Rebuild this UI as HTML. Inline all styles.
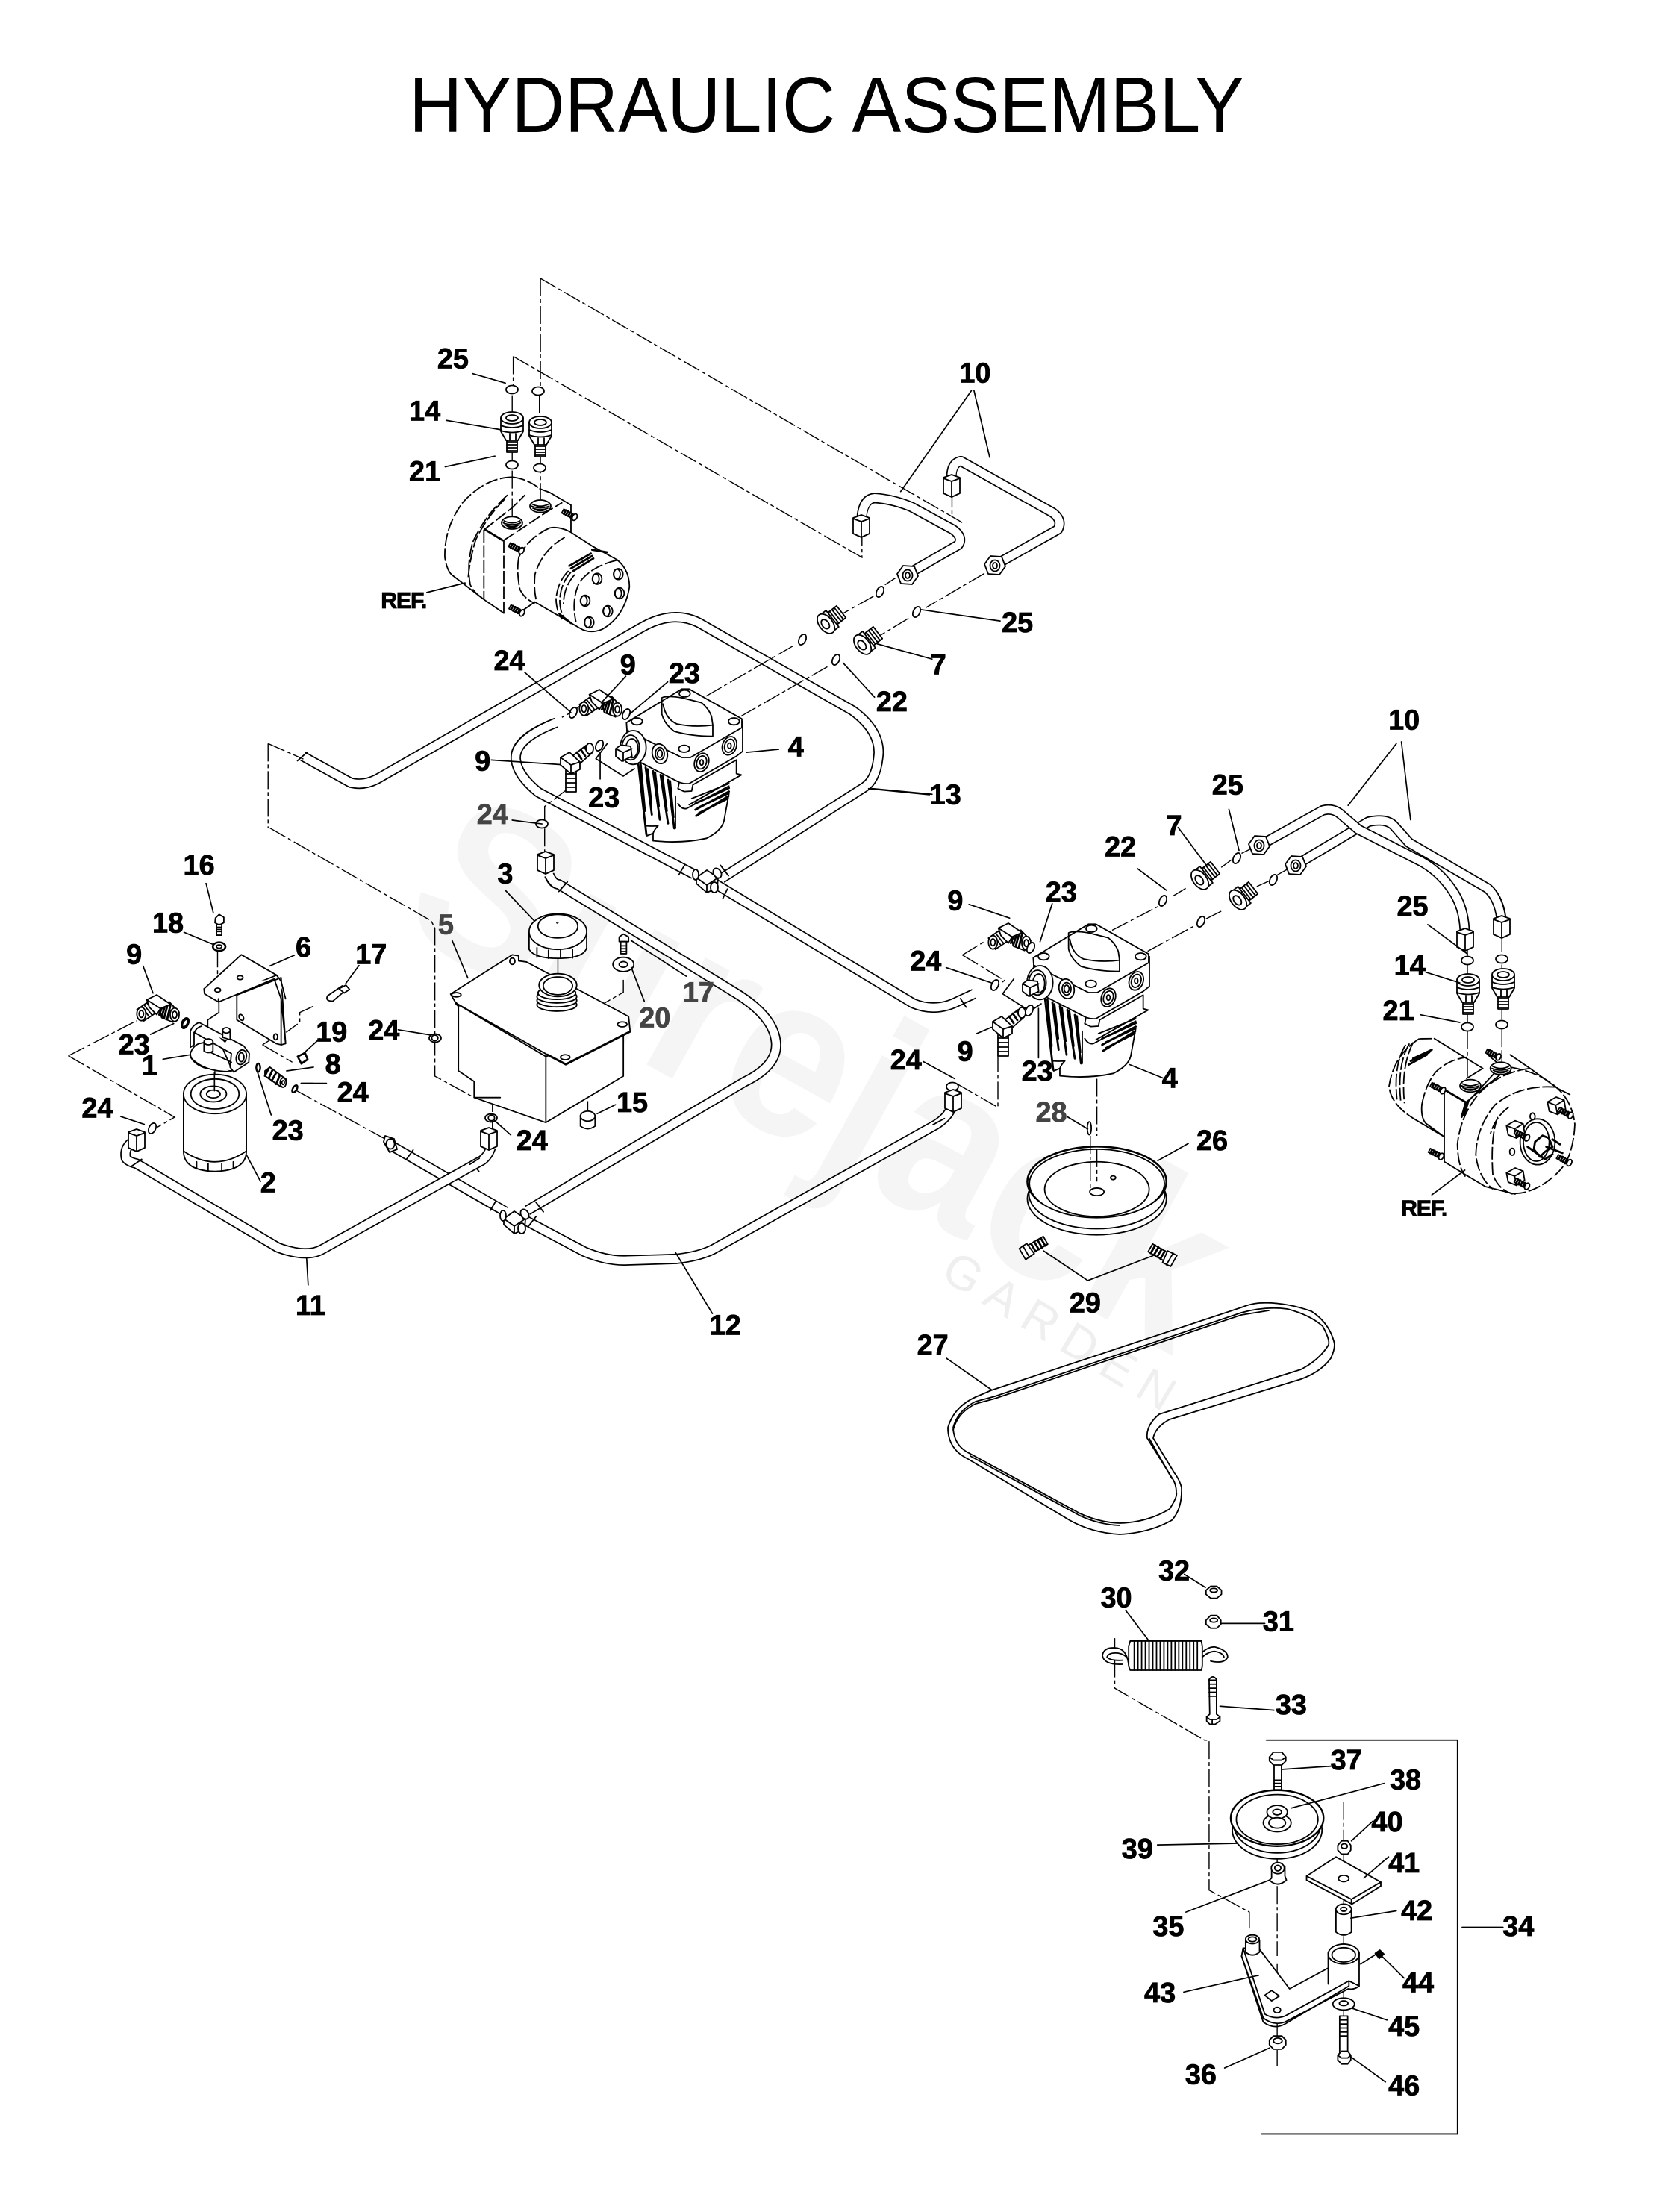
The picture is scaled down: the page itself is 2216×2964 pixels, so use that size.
<!DOCTYPE html>
<html><head><meta charset="utf-8"><title>Hydraulic Assembly</title>
<style>
html,body{margin:0;padding:0;background:#fff}
svg{display:block}
svg *{vector-effect:non-scaling-stroke}
.l{fill:none;stroke:#000;stroke-width:1.8;stroke-linejoin:round;stroke-linecap:round}
.w path,.w ellipse,.w polygon,.w rect,.w circle{fill:#fff}
.ld{stroke-width:1.7}
.nf path,.nf ellipse{fill:none}
.h{stroke-width:2.8}
.da{fill:none;stroke:#000;stroke-width:1.4;stroke-dasharray:24 4 5 4}
.dd{fill:none;stroke:#000;stroke-width:1.8;stroke-dasharray:17 3.5;stroke-linecap:butt}
.t1{fill:none;stroke:#000;stroke-width:14;stroke-linejoin:round;stroke-linecap:butt}
.t2{fill:none;stroke:#fff;stroke-width:10.6;stroke-linejoin:round;stroke-linecap:square}
.n text{font:bold 20px "Liberation Sans",sans-serif;text-anchor:middle;fill:#000;stroke:#000;stroke-width:.8}
.n .g{fill:#444;stroke:#444}
.n .r{font-size:16px;letter-spacing:-.6px}
</style></head><body>
<svg xmlns="http://www.w3.org/2000/svg" width="2216" height="2964" viewBox="0 0 2216 2964">
<rect width="2216" height="2964" fill="#fff"/>
<text transform="translate(530,1240) rotate(29)" font-family="Liberation Sans,sans-serif" font-weight="bold" font-size="310" fill="#f5f5f5" textLength="1190" lengthAdjust="spacingAndGlyphs">Surejack</text>
<text transform="translate(1258,1712) rotate(31)" font-family="Liberation Sans,sans-serif" font-size="64" fill="#efefef" textLength="350" lengthAdjust="spacing">GARDEN</text>
<text x="548" y="177" font-family="Liberation Sans,sans-serif" font-size="106" fill="#000" textLength="1119" lengthAdjust="spacingAndGlyphs">HYDRAULIC ASSEMBLY</text>

<defs>
<g id="ring" class="l w"><ellipse rx="4.5" ry="7.5" transform="rotate(25)"/></g>
<g id="rh" class="l"><ellipse rx="8" ry="5.5" fill="#fff"/></g>
<g id="nutE" class="l w"><polygon points="-14,-2 -6,-13 9,-12 14,1 6,12 -9,11"/><ellipse rx="6.5" ry="7.5"/><ellipse rx="3" ry="4"/></g>
<g id="nutV" class="l w"><polygon points="-11,-11 0,-15 11,-11 11,10 0,15 -11,10"/><path d="M-11,-10 L0,-6 L11,-10 M0,-6 V15"/></g>
<g id="fit7" class="l w" transform="rotate(-38)">
 <rect x="12" y="-10" width="16" height="20"/><path d="M16,-10V10M20,-10V10M24,-10V10"/>
 <rect x="2" y="-14" width="11" height="28"/><path d="M2,-5H13M2,5H13"/>
 <ellipse cx="2" cy="0" rx="9" ry="15"/><ellipse cx="1" cy="0" rx="4.5" ry="7"/>
</g>
<g id="fit14" class="l w">
 <rect x="-7" y="8" width="14" height="18"/><path d="M-7,12H7M-7,16H7M-7,20H7M-7,24H7" />
 <path d="M-15,-20 V-2 L-8,10 H8 L15,-2 V-20Z"/><path d="M-15,-10 Q0,-4 15,-10 M-15,-3 Q0,2 15,-3 M-3,10 V1 M5,10 V1"/>
 <ellipse cx="0" cy="-20" rx="15" ry="8"/><ellipse cx="0" cy="-20" rx="8" ry="4"/>
</g>
<g id="elb1"><g transform="scale(.3333) translate(-150,-265)" class="l w">
 <path d="M70,280 L110,252 L150,290 L98,325Z"/>
 <path d="M100,262 L130,300 M112,255 L142,292 M90,268 L118,306"/>
 <ellipse cx="88" cy="297" rx="18" ry="27"/><ellipse cx="88" cy="297" rx="9" ry="14"/>
 <path d="M160,270 L200,248 L240,290 L215,330 L170,312Z"/>
 <path class="h" d="M175,262 L160,300 M185,258 L170,308 M195,255 L180,312 M205,262 L192,318"/>
 <ellipse cx="222" cy="300" rx="18" ry="27"/><ellipse cx="222" cy="300" rx="9" ry="14"/>
 <path d="M110,240 L150,220 L205,258 L165,275 L150,300 L120,270Z"/><path d="M110,240 L165,275"/>
</g></g>
<g id="elb2" class="l w">
 <rect x="-7" y="8" width="14" height="30"/><path d="M-7,14H7M-7,20H7M-7,26H7M-7,32H7"/>
 <path d="M2,-10 L20,-24 L28,-14 L10,2Z"/><path class="h" d="M8,-15 L14,-6 M13,-19 L19,-10 M18,-22 L24,-13"/><ellipse cx="25" cy="-20" rx="5" ry="7"/>
 <polygon points="-14,-8 -2,-15 12,-2 12,8 0,14 -14,2"/><path d="M-14,-8 L0,2 L12,-2 M0,2 V14"/>
</g>
<g id="hex" class="l w"><path d="M-15,-4 L-8,-10 H8 L15,-4 V3 L8,9 H-8 L-15,3Z"/><path d="M-15,-4 L-8,2 H8 L15,-4 M-8,2 V9 M8,2 V9"/><ellipse cx="0" cy="-4" rx="6" ry="3.5"/></g>
<g id="scr" class="l w"><rect x="0" y="-6" width="24" height="12"/><path class="h" d="M5,-6V6M10,-6V6M15,-6V6M20,-6V6"/><path d="M-12,-8 L0,-9 L2,8 L-12,9Z"/><path d="M-6,-9 V9"/></g>
<g id="stud"><g class="l w"><path d="M-26,-13 L22,12 L14,27 L-34,2Z"/><ellipse cx="18" cy="19" rx="9" ry="14" transform="rotate(28 18 19)"/><path class="h" d="M-18,-9 L-26,6 M-9,-5 L-17,11 M0,0 L-8,15 M9,5 L1,20"/></g></g>
<g id="thr" class="l"><ellipse rx="42" ry="25" fill="#fff"/><path d="M-32,-8 Q0,8 32,-8 M-35,0 Q0,14 35,0 M-30,8 Q0,20 30,8 M-20,14 Q0,22 20,14"/></g>
<g id="hh" class="l w"><path d="M-35,-15 L0,-35 L32,-22 L38,15 L5,35 L-28,22Z"/><path d="M-35,-15 L-2,-2 L32,-22 M-2,-2 L5,35"/></g>

<g id="pump" transform="translate(780,900) scale(.3333)">
 <path fill="#fff" d="M178,205 L400,70 H430 L645,200 V320 L590,490 L570,600 L500,670 L285,680 L260,660 L222,360 L180,340Z"/>
 <g class="l w nf">
 <path d="M285,650 V680 Q400,692 500,670 Q560,640 570,600 L590,490"/>
 <path d="M260,660 L255,620 Q280,622 305,620 Q290,635 285,650 L260,660"/>
 <path class="h" d="M225,365 L258,655 M235,372 L252,560 M255,385 L280,575 M263,392 L278,530 M285,400 L312,595 M293,405 L308,540 M315,415 L345,610 M323,420 L340,560 M345,435 L370,630 M353,440 L367,585"/>
 <path d="M375,500 V630 M385,530 Q400,555 420,550 L590,460"/>
 <path d="M215,355 L390,445 Q410,452 430,450 L620,340 L645,320 V200"/>
 <path d="M390,445 L385,470 L410,482 L440,480 L445,455 L620,355 V410 L640,415 L430,535"/>
 <path d="M440,510 L590,450"/>
 <path class="h" d="M455,530 L590,468 M455,555 L590,482 M458,580 L588,500 M470,545 L585,490 M470,568 L585,510"/>
 <path d="M178,205 L400,70 H430 L642,190 V225 L435,345 H400 L180,235Z"/>
 <path d="M180,235 V340 M205,240 L215,355"/>
 <path d="M320,105 Q340,95 400,105 L480,125 Q510,150 520,180 L525,215 V260 Q440,260 370,240 Q330,210 320,170Z"/>
 <path d="M325,130 Q335,190 380,210 Q450,225 525,215"/>
 </g>
 <g class="l w">
 <ellipse cx="220" cy="200" rx="22" ry="14"/><ellipse cx="412" cy="88" rx="22" ry="14"/><ellipse cx="610" cy="200" rx="22" ry="14"/><ellipse cx="410" cy="310" rx="22" ry="14"/>
 <ellipse cx="312" cy="330" rx="30" ry="40" transform="rotate(-15 312 330)"/><ellipse cx="312" cy="330" rx="18" ry="25"/><ellipse cx="312" cy="330" rx="10" ry="15"/>
 <ellipse cx="480" cy="365" rx="28" ry="38" transform="rotate(20 480 365)"/><ellipse cx="480" cy="365" rx="19" ry="27" transform="rotate(20 480 365)"/><ellipse cx="480" cy="365" rx="7" ry="11"/>
 <ellipse cx="592" cy="298" rx="28" ry="38" transform="rotate(20 592 298)"/><ellipse cx="592" cy="298" rx="19" ry="27" transform="rotate(20 592 298)"/><ellipse cx="592" cy="298" rx="7" ry="11"/>
 <ellipse cx="205" cy="305" rx="52" ry="68"/><ellipse cx="195" cy="305" rx="35" ry="50"/><ellipse cx="200" cy="308" rx="24" ry="38"/>
 <path d="M135,310 L155,295 L195,300 L200,340 L160,360 L135,340Z"/><path d="M135,310 L165,325 L200,310 M165,325 V360"/>
 </g>
 <path class="l ld" d="M100,290 L55,350 L165,420 L210,390"/>
</g>
</defs>

<!-- tubes back -->
<g transform="translate(400,350) scale(.7015,.5102)">
 <path class="t1" d="M8,1300 L100,1370 Q125,1378 150,1360 L655,962 Q715,915 765,950 L1058,1180 Q1108,1230 1108,1290 Q1105,1360 1080,1382 L808,1621"/>
 <path class="t2" d="M8,1300 L100,1370 Q125,1378 150,1360 L655,962 Q715,915 765,950 L1058,1180 Q1108,1230 1108,1290 Q1105,1360 1080,1382 L808,1621"/>
 <path class="l" d="M-2,1312 L16,1290"/>
 <path class="t1" d="M492,1212 Q410,1255 415,1310 Q418,1350 458,1395 L755,1610"/>
 <path class="t2" d="M492,1212 Q410,1255 415,1310 Q418,1350 458,1395 L755,1610"/>
 <path class="da" d="M462,45 L1272,690 M462,45 V340 M460,352 V420 M462,510 V640"/>
 <path class="da" d="M410,250 L1076,778 V720 M410,250 V325 M408,352 V410 M408,500 V525 M408,550 V680"/>
 <path class="da" d="M1248,600 V665 M1140,832 L1120,850 M1098,880 L1040,925 M945,1010 L775,1145 M1310,820 L1198,910 M1165,938 L1108,985 M1010,1065 L845,1195"/>
 <path class="da" d="M515,1385 L470,1432 V1470 M470,1490 V1555 M540,1165 L525,1182 L503,1198"/>
</g>
<g transform="translate(500,1000) scale(.7653,.6378)">
 <path class="t1" d="M596,287 L945,540 Q985,560 1025,535 L1052,520"/><path class="t2" d="M596,287 L945,540 Q985,560 1025,535 L1052,520"/>
 <path class="t1" d="M308,270 Q315,290 325,290 L630,515 Q700,565 705,620 Q710,670 650,705 L270,975"/><path class="t2" d="M308,270 Q315,290 325,290 L630,515 Q700,565 705,620 Q710,670 650,705 L270,975"/>
 <path class="t1" d="M265,995 L370,1062 Q410,1082 445,1080 L530,1077 Q570,1072 595,1057 L985,795 Q1005,780 1012,760"/><path class="t2" d="M265,995 L370,1062 Q410,1082 445,1080 L530,1077 Q570,1072 595,1057 L985,795 Q1005,780 1012,760"/>
 <path class="t1" d="M30,838 L232,978"/><path class="t2" d="M36,842 L228,975"/>
 <path class="l" d="M620,300 L612,320 M545,250 L535,270 M1028,530 L1038,548 M608,250 L622,272 M340,285 L325,305 M1000,782 L980,795 M285,958 L298,978 M285,988 L272,1008 M70,848 L58,868 M215,955 L205,975 M175,878 L185,893"/>
</g>
<g transform="translate(60,1100) scale(.7015,.4783)">
 <path class="t1" d="M175,893 Q150,910 155,945 Q160,955 175,960 L445,1195 Q500,1225 530,1200 L830,955 Q845,945 852,915"/>
 <path class="t2" d="M175,893 Q150,910 155,945 Q160,955 175,960 L445,1195 Q500,1225 530,1200 L830,955 Q845,945 852,915"/>
 <path class="l" d="M165,968 L185,948 M830,945 L812,962"/>
 <path class="da" d="M45,658 L175,560 M45,658 L248,830 L215,858 M325,700 V770 M330,360 V450 M480,755 L655,895 M1105,445 V480 L992,575 V750 M980,385 V455 M1037,785 V815 M870,775 L855,795 V825 M855,840 V870"/>
 <path class="da" d="M430,20 L738,280 L745,300 V715 L820,775"/>
</g>
<g transform="scale(1.8906)"><path class="da" d="M190,527 L215,538 M190,527 V587"/></g>

<!-- tube 10 -->
<g transform="translate(400,350) scale(.7015,.5102)">
 <path class="t1" d="M1075,690 Q1075,625 1100,622 Q1135,625 1170,645 L1250,705 Q1270,725 1260,745 L1163,822"/><path class="t2" d="M1075,690 Q1075,625 1100,622 Q1135,625 1170,645 L1250,705 Q1270,725 1260,745 L1163,822"/>
 <path class="t1" d="M1247,575 Q1245,530 1265,525 L1440,660 Q1460,680 1450,705 L1330,798"/><path class="t2" d="M1247,575 Q1245,530 1265,525 L1440,660 Q1460,680 1450,705 L1330,798"/>
</g>
<g transform="translate(1150,920) scale(.68,.5102)">
 <path class="t1" d="M1268,625 Q1265,560 1240,530 L1085,410 L1055,365 Q1040,345 1005,355 L860,470"/><path class="t2" d="M1268,625 Q1265,560 1240,530 L1085,410 L1055,365 Q1040,345 1005,355 L860,470"/>
 <path class="t1" d="M790,418 L915,325 Q935,318 950,335 L985,375 L1110,460 Q1150,490 1175,545 Q1195,590 1195,655"/><path class="t2" d="M790,418 L915,325 Q935,318 950,335 L985,375 L1110,460 Q1150,490 1175,545 Q1195,590 1195,655"/>
 <path class="da" d="M500,640 L590,578 M620,550 L645,530 M715,475 L735,455 M755,438 L775,425 M570,695 L660,630 M685,610 L715,590 M785,525 L810,510 M825,495 L845,480"/>
 <path class="da" d="M205,705 L248,670 M205,705 L288,772 L268,790 M275,965 V1105 L190,1040 M470,1030 V1180 M470,1215 V1300 M457,1180 V1320 M1268,650 V705 M1200,690 V710 M1200,730 V770 M1268,730 V750 M1268,840 V875 M1200,850 V880 M1200,905 V1040 M1268,900 V1000"/>
</g>

<!-- pumps -->
<use href="#pump"/>
<use href="#pump" x="545" y="315"/>

<!-- fittings -->
<use href="#ring" x="1075" y="857"/><use href="#ring" x="1120" y="884"/><use href="#ring" x="1179" y="793"/><use href="#ring" x="1228" y="820"/>
<use href="#ring" x="1558" y="1207"/><use href="#ring" x="1609" y="1235"/><use href="#ring" x="1657" y="1150"/><use href="#ring" x="1706" y="1179"/>
<use href="#fit7" transform="translate(1105,837)"/><use href="#fit7" transform="translate(1154,865)"/><use href="#fit7" transform="translate(1606,1180)"/><use href="#fit7" transform="translate(1657,1207)"/>
<use href="#nutE" x="1216" y="771"/><use href="#nutE" x="1333" y="758"/><use href="#nutE" x="1687" y="1133"/><use href="#nutE" x="1736" y="1160"/>
<use href="#nutV" x="1154" y="705"/><use href="#nutV" x="1275" y="651"/><use href="#nutV" x="1963" y="1259"/><use href="#nutV" x="2012" y="1242"/>
<use href="#fit14" x="686" y="580"/><use href="#fit14" x="724" y="586"/><use href="#fit14" x="1967" y="1333"/><use href="#fit14" x="2014" y="1326"/>
<use href="#rh" x="686" y="522"/><use href="#rh" x="721" y="524"/><use href="#rh" x="686" y="623"/><use href="#rh" x="723" y="627"/><use href="#rh" x="1966" y="1287"/><use href="#rh" x="2012" y="1285"/><use href="#rh" x="1966" y="1376"/><use href="#rh" x="2012" y="1373"/>
<use href="#elb1" x="803" y="939"/><use href="#elb2" x="765" y="1023"/><use href="#elb1" x="1351" y="1252"/><use href="#elb2" x="1344" y="1377"/><use href="#elb1" x="210" y="1348"/>
<use href="#ring" x="839" y="957"/><use href="#ring" x="803" y="999"/><use href="#ring" x="1381" y="1270"/><use href="#ring" x="1379" y="1354"/><use href="#ring" x="248" y="1371"/>
<use href="#ring" x="768" y="955"/><use href="#ring" x="1333" y="1320"/><use href="#ring" x="204" y="1512"/>
<use href="#rh" x="726" y="1104"/><use href="#rh" x="1276" y="1456"/><use href="#rh" x="583" y="1391"/><use href="#rh" x="658" y="1498"/>
<use href="#nutV" x="731" y="1156"/><use href="#nutV" x="655" y="1526"/><use href="#nutV" x="1277" y="1475"/><use href="#nutV" x="183" y="1528"/>
<g class="l w"><polygon points="516,1522 528,1526 532,1540 522,1544 514,1530"/>
<g transform="translate(947,1180)"><polygon points="-14,-4 0,-14 15,-4 14,10 0,16 -14,4"/><path d="M-14,-4 L0,6 L15,-4 M0,6 V16"/><ellipse cx="14" cy="-10" rx="5" ry="7" transform="rotate(-30 14 -10)"/><ellipse cx="-15" cy="-8" rx="4" ry="7"/><ellipse cx="10" cy="9" rx="5" ry="7"/></g>
<g transform="translate(689,1637)"><polygon points="-14,-4 0,-14 15,-4 14,10 0,16 -14,4"/><path d="M-14,-4 L0,6 L15,-4 M0,6 V16"/><ellipse cx="14" cy="-10" rx="5" ry="7" transform="rotate(-30 14 -10)"/><ellipse cx="-15" cy="-8" rx="4" ry="7"/><ellipse cx="10" cy="9" rx="5" ry="7"/></g>
</g>

<!-- motor top-left -->
<g transform="translate(580,630) scale(.3333)">
 <path class="dd" d="M320,28 Q210,30 120,130 Q45,230 48,350 Q55,400 75,420 M300,100 Q210,180 160,290 Q135,380 150,460 Q165,495 205,518 M290,115 Q215,190 172,280 Q150,350 142,430 M205,240 V520 M285,282 V575 M205,240 L320,150 L370,100 M285,282 L470,160 L520,130 M320,28 Q380,35 430,75"/>
 <path class="dd" d="M345,350 Q335,410 350,480 Q370,520 410,535 M345,350 Q385,270 470,232 M530,270 Q440,320 410,420 Q405,480 415,520 M740,362 Q640,385 590,450 Q555,520 575,610"/>
 <path class="dd" d="M545,405 Q500,450 495,520 Q497,570 520,600 M555,410 Q510,460 510,530 Q512,570 530,600 M570,420 Q525,470 525,540"/>
 <path class="l" d="M75,420 L205,520 L285,575 M430,75 L470,90 L555,140 V250 M470,232 Q510,225 555,250 L640,305 L740,360 Q790,400 790,470 Q770,590 680,640 Q630,660 590,635 L410,530 L345,575"/>
 <path class="l h" d="M208,238 L280,282 M548,385 L635,335 M555,395 L640,345 M565,405 L645,355 M510,580 L555,615 M640,320 L700,330"/>
 <use href="#thr" x="318" y="212"/><use href="#thr" x="432" y="145"/>
 <use href="#stud" x="552" y="170"/><use href="#stud" x="338" y="305"/><use href="#stud" x="340" y="555"/>
 <g class="l"><ellipse cx="660" cy="437" rx="19" ry="22"/><ellipse cx="745" cy="418" rx="19" ry="22"/><ellipse cx="750" cy="495" rx="19" ry="22"/><ellipse cx="612" cy="525" rx="19" ry="22"/><ellipse cx="703" cy="567" rx="19" ry="22"/><ellipse cx="628" cy="612" rx="19" ry="22"/>
 <ellipse cx="655" cy="437" rx="13" ry="20"/><ellipse cx="740" cy="418" rx="13" ry="20"/><ellipse cx="745" cy="495" rx="13" ry="20"/><ellipse cx="607" cy="525" rx="13" ry="20"/><ellipse cx="698" cy="567" rx="13" ry="20"/><ellipse cx="623" cy="612" rx="13" ry="20"/></g>
</g>
<g transform="translate(400,350) scale(.7015,.5102)" class="l ld">
 <path d="M332,295 L395,320 M282,418 L388,443 M280,540 L375,512 M245,870 L318,845 M1285,340 L1150,605 M1290,340 L1320,515 M1188,915 L1340,945 M1105,1005 L1210,1045 M1040,1055 L1100,1145 M855,1290 L917,1282 M1095,1385 L1210,1400 M432,1080 L520,1185 M625,1090 L578,1160 M705,1105 L632,1190 M368,1310 L500,1322 M576,1290 V1360 M408,1468 L465,1478"/>
</g>

<!-- left assembly -->
<g transform="translate(60,1100) scale(.7015,.4783)">
 <g class="l w">
  <path d="M265,765 V925 Q265,980 325,982 Q385,980 385,925 V765Z"/>
  <path d="M265,925 Q325,985 385,925 M290,955 V975 M312,960 V980 M338,960 V980 M360,955 V975"/>
  <ellipse cx="325" cy="765" rx="60" ry="55"/><ellipse cx="325" cy="765" rx="46" ry="42"/><ellipse cx="322" cy="765" rx="25" ry="22"/><ellipse cx="322" cy="765" rx="13" ry="11"/>
  <path d="M326,272 L333,262 L342,270 L342,285 L333,292 L325,285Z"/><rect x="328" y="290" width="10" height="30"/><path d="M328,298H338M328,304H338M328,310H338"/>
  <ellipse cx="333" cy="352" rx="12" ry="12" style="stroke-width:2.6"/><ellipse cx="333" cy="352" rx="5" ry="5"/>
  <path d="M540,490 L568,462 L578,470 L550,505 Q535,505 540,490Z"/><path d="M562,470 L575,460 L582,472 L572,482Z"/>
  <path d="M483,660 L497,650 L502,668 L490,680Z" style="stroke-width:2.6"/>
  <ellipse cx="745" cy="608" rx="6" ry="8"/>
  <ellipse cx="853" cy="832" rx="6" ry="8"/>
  <path d="M790,515 V700 L820,730 V775 L957,845 L1105,715 V590 L957,660Z"/>
  <path d="M957,660 V845 M820,775 L870,775"/>
  <path d="M775,485 L893,375 L905,378 L905,392 L920,395 L1115,548 L1118,590 L995,682 L960,655 L785,510 Z"/>
  <path d="M785,510 L790,518 M960,655 L995,682 L1118,590" style="stroke-width:3"/>
  <ellipse cx="893" cy="393" rx="5" ry="9"/><ellipse cx="786" cy="487" rx="9" ry="6"/><ellipse cx="1103" cy="570" rx="9" ry="7"/><ellipse cx="994" cy="662" rx="9" ry="7"/>
  <ellipse cx="978" cy="515" rx="38" ry="18"/><ellipse cx="978" cy="503" rx="38" ry="18"/><ellipse cx="978" cy="492" rx="38" ry="18"/><ellipse cx="978" cy="482" rx="36" ry="18"/>
  <ellipse cx="980" cy="460" rx="36" ry="32"/><ellipse cx="980" cy="462" rx="28" ry="25"/>
  <path d="M925,310 V360 Q935,385 980,385 Q1030,385 1035,355 V310Z"/><path d="M940,355V382M962,362V385M985,362V385M1008,360V384"/>
  <ellipse cx="980" cy="310" rx="55" ry="50"/><ellipse cx="980" cy="295" rx="38" ry="33"/>
  <circle cx="979" cy="285" r="1"/>
  <path d="M1097,325 L1105,317 L1115,325 V338 H1097Z"/><rect x="1100" y="338" width="11" height="34"/><path d="M1100,350H1111M1100,358H1111M1100,366H1111"/>
  <ellipse cx="1105" cy="402" rx="20" ry="20"/><ellipse cx="1105" cy="402" rx="8" ry="8"/>
  <path d="M1023,825 V855 Q1037,870 1051,855 V825Z"/><ellipse cx="1037" cy="827" rx="14" ry="14"/>
  <ellipse cx="660" cy="905" rx="8" ry="14"/>
 </g>
 <g class="l ld">
  <path d="M308,175 L322,258 M266,312 L320,345 M600,405 L575,455 M525,610 L495,650 M675,585 L738,600 M490,735 H538 M145,828 L190,850 M1055,820 L1090,795 M890,880 L858,838 M412,1010 L385,935 M503,1300 L500,1225 M1275,1380 L1205,1210 M1225,435 L1120,335 M1145,505 L1120,410 M880,195 L935,280 M778,335 L808,440"/>
 </g>
</g>

<!-- filter head + bracket -->
<g transform="translate(160,1260) scale(.3333)">
 <path class="da" d="M780,265 L725,290 V330 L670,370 M575,420 L630,385 M575,420 L695,490"/>
 <g class="l w">
  <path d="M472,220 V320 L630,415 L650,420 L668,415 L650,150 L472,220Z"/>
  <ellipse cx="490" cy="310" rx="8" ry="13" transform="rotate(-30 490 310)"/><ellipse cx="628" cy="388" rx="8" ry="12"/>
  <path d="M340,195 L490,58 L632,140 L398,235Z"/>
  <path d="M340,195 L342,215 L398,248 L622,155 L650,235 L668,415 L650,420 V235 L622,155 M632,140 L650,165 L668,235 M398,235 V248"/>
  <ellipse cx="485" cy="150" rx="12" ry="8"/><ellipse cx="395" cy="200" rx="12" ry="8"/>
 </g>
 <path class="l ld" d="M400,250 V290 L355,320 V400 M382,530 V605 M95,103 L135,212 M605,103 L703,60 M125,378 L218,335 M175,478 L285,460 M672,525 L780,510 M555,530 L610,702 M730,575 H780"/>
 <g class="l w">
  <path d="M285,455 Q285,490 340,512 Q400,525 450,525 L450,515 L400,400 L320,415 Q295,425 285,455Z"/>
  <path d="M285,470 Q340,530 450,528"/>
  <path d="M285,430 V365 Q295,340 320,330 L500,425 L522,455 L520,490 L460,530 L445,510 L450,455 L300,370 V420 Z"/>
  <path d="M300,372 Q310,350 330,345 M345,440 L450,490"/>
  <ellipse cx="490" cy="470" rx="20" ry="30" transform="rotate(15 490 470)"/><ellipse cx="490" cy="470" rx="11" ry="18"/>
  <path d="M340,408 V445 Q358,458 376,445 V408Z"/><ellipse cx="358" cy="408" rx="18" ry="12"/>
  <path d="M415,362 V390 L445,400 V362Z"/><ellipse cx="430" cy="362" rx="15" ry="11"/>
  <ellipse cx="264" cy="333" rx="9" ry="17" transform="rotate(30 264 333)" style="fill:none;stroke-width:2.4"/>
  <ellipse cx="558" cy="512" rx="8" ry="17" style="stroke-width:2.4"/>
  <path d="M585,525 L605,510 L672,560 L650,590 L585,545Z"/>
  <path class="h" d="M600,515 L585,545 M615,522 L600,555 M630,532 L612,565 M645,542 L630,578"/><ellipse cx="658" cy="572" rx="12" ry="19"/><ellipse cx="658" cy="572" rx="5" ry="8"/>
  <ellipse cx="705" cy="597" rx="8" ry="16" transform="rotate(30 705 597)" style="fill:none;stroke-width:2.4"/>
 </g>
 <path d="M400,390 L432,402 L425,412Z" fill="#000"/>
</g>

<!-- right motor -->
<g transform="translate(1890,1380) scale(.3333)">
 <path class="dd" d="M34,36 Q-68,100 -87,227 Q-80,300 14,358 M34,36 L95,35 M45,300 Q60,220 100,170 Q150,120 225,110 M-20,60 Q-70,140 -55,280 M-5,55 Q-55,140 -40,285 M10,50 Q-40,150 -25,295"/>
 <path class="l" d="M14,358 L135,430 M95,35 L290,155 L225,195 M400,100 L480,155 M310,100 L345,130 M45,300 Q40,350 60,375 L135,430 M135,250 V530 L225,585 L300,630 L420,660 M225,295 L340,170 M235,280 L360,180 M480,155 L590,235 L640,260"/>
 <path class="l h" d="M135,240 L220,290 M222,290 L205,350 M232,285 L215,345 M225,295 L210,340 M10,115 L85,80 M0,125 L75,90 M-8,140 L65,100"/>
 <path class="dd" d="M480,155 Q360,170 280,250 Q200,340 188,460 Q190,550 220,590 M400,150 Q520,170 590,235 Q650,290 660,380 Q655,480 620,540 Q560,620 470,650 Q420,665 380,650 M580,230 Q440,220 340,300 Q265,390 262,500 Q270,590 330,640 M395,310 Q340,350 320,420 M350,350 Q320,430 330,580 Q350,640 410,660"/>
 <use href="#thr" x="240" y="225"/><use href="#thr" x="362" y="155"/>
 <use href="#stud" x="335" y="90"/><use href="#stud" x="112" y="225"/><use href="#stud" x="105" y="490"/>
 <g class="l"><ellipse cx="510" cy="450" rx="70" ry="92"/><ellipse cx="505" cy="450" rx="52" ry="78"/><ellipse cx="490" cy="348" rx="10" ry="14"/><ellipse cx="408" cy="490" rx="10" ry="14"/></g>
 <path class="l h" d="M500,450 L530,425 L555,435 L570,470 L540,490 L520,510 L495,480Z M470,470 L540,520 L570,500 M570,440 L600,460 M545,470 L610,495"/>
 <use href="#hh" x="585" y="305"/><use href="#hh" x="420" y="400"/><use href="#hh" x="420" y="590"/>
 <use href="#stud" x="625" y="325"/><use href="#stud" x="450" y="415"/><use href="#stud" x="450" y="610"/><use href="#stud" x="620" y="515"/>
</g>

<!-- pulley and right leaders -->
<g transform="translate(1150,920) scale(.68,.5102)">
 <g class="l w">
  <ellipse cx="470" cy="1345" rx="137" ry="95"/><ellipse cx="470" cy="1332" rx="134" ry="92"/>
  <ellipse cx="470" cy="1300" rx="137" ry="92" style="stroke-width:2.6"/><ellipse cx="470" cy="1305" rx="133" ry="90"/>
  <ellipse cx="470" cy="1320" rx="103" ry="72"/>
  <ellipse cx="470" cy="1327" rx="14" ry="10"/><ellipse cx="502" cy="1290" rx="5" ry="5"/>
  <ellipse cx="455" cy="1160" rx="4" ry="17"/>
 </g>
 <path class="da" d="M470,1215 V1300 M457,1180 V1320"/>
 <g class="l ld">
  <path d="M1060,150 L965,312 M1070,145 L1088,350 M730,322 L750,430 M630,370 L685,468 M550,478 L607,535 M218,572 L298,608 M382,570 L358,670 M1122,625 L1200,702 M1118,750 L1185,778 M1108,862 L1185,882 M173,738 L262,778 M232,912 L262,895 M355,845 V975 M128,985 L190,1030 M535,993 L600,1028 M412,1130 L452,1162 M590,1245 L650,1200 M1130,1335 L1195,1270 M20,268 L140,284 M365,1482 L452,1560 L580,1495"/>
 </g>
</g>
<use href="#scr" transform="translate(1380,1674) rotate(-30)"/>
<use href="#scr" transform="translate(1562,1684) rotate(210)"/>

<!-- belt -->
<g class="l" style="stroke-width:1.8">
 <path d="M1328,1863 L1307,1872 Q1278,1885 1270,1913 Q1270,1942 1297,1955 L1433,2037 Q1463,2054 1500,2056 Q1540,2054 1570,2037 Q1584,2022 1583,1993 Q1580,1982 1573,1973 L1545,1927 Q1548,1912 1567,1902 L1743,1848 Q1770,1838 1783,1820 Q1790,1805 1787,1797 Q1780,1772 1757,1757 Q1720,1744 1687,1746 Q1675,1747 1663,1752 Z"/>
 <path d="M1333,1871 L1307,1878 Q1283,1890 1277,1913 Q1278,1938 1300,1948 L1447,2028 Q1473,2040 1500,2041 Q1537,2040 1567,2022 Q1578,2005 1576,2000 Q1576,1988 1570,1980 L1537,1927 Q1535,1910 1553,1895 L1743,1835 Q1768,1822 1780,1802 Q1782,1795 1772,1777 Q1755,1762 1725,1754 Q1695,1750 1663,1759 Z"/>
 <path d="M1333,1871 L1307,1878 Q1283,1890 1277,1913 M1300,1948 L1447,2028 Q1473,2040 1500,2041 M1700,1753 L1663,1759 L1333,1871 M1540,1925 L1570,1978" transform="translate(0,3)"/>
 <path class="ld" d="M1268,1820 L1328,1862"/>
</g>

<!-- idler assembly -->
<g transform="translate(1450,2080) scale(.4145,.5357)">
 <path class="l" d="M595,470 H1213 V1455 H580 M1228,938 H1360"/>
 <path class="da" d="M105,215 V240 M105,268 V340 L395,470 H410 V845 L540,900 V945 M630,525 V610 M630,740 V790 M630,835 V1010 M630,1030 V1210 M630,1245 V1285 M845,625 V720 M845,755 V795 M845,835 V880 M845,960 V1000 M845,1100 V1118 M845,1140 V1160"/>
 <g class="l w">
  <path d="M400,95 L415,85 H435 L450,95 V105 L435,115 H415 L400,105Z"/><ellipse cx="425" cy="95" rx="12" ry="5"/>
  <path d="M400,170 L415,158 H435 L448,170 V180 L435,190 H415 L400,180Z"/><ellipse cx="425" cy="170" rx="12" ry="5"/>
  <path d="M150,235 L155,222 H385 L388,235 V285 L385,295 H155 L150,285Z"/>
  <path d="M168,222V295M180,222V295M192,222V295M204,222V295M216,222V295M228,222V295M240,222V295M252,222V295M264,222V295M276,222V295M288,222V295M300,222V295M312,222V295M324,222V295M336,222V295M348,222V295M360,222V295M372,222V295"/>
  <path d="M150,282 Q145,245 115,240 Q70,235 65,258 Q70,282 130,280" style="fill:none"/><path d="M150,270 Q140,255 115,252 Q85,250 80,262 Q90,272 130,270" style="fill:none"/>
  <path d="M388,250 Q410,235 430,237 Q470,245 470,262 Q460,280 415,272" style="fill:none"/><path d="M388,262 Q410,247 430,248 Q455,252 458,262" style="fill:none"/>
  <path d="M410,318 Q422,305 434,318 V405 L445,412 V422 L430,430 H412 L402,422 V412 L412,405Z"/><path d="M410,320 H434 M410,330 H434 M410,340 H434 M410,350 H434 M410,360 H434 M402,412 L412,418 H435 L445,412 M420,418 V430"/>
  <rect x="620" y="525" width="24" height="85"/><path d="M620,570H644M620,578H644M620,586H644M620,594H644M620,602H644"/>
  <path d="M605,512 L618,500 H645 L658,512 V522 L645,532 H618 L605,522Z"/><path d="M605,512 L618,520 H645 L658,512"/>
  <ellipse cx="630" cy="695" rx="145" ry="72"/><ellipse cx="630" cy="682" rx="140" ry="70"/>
  <ellipse cx="630" cy="665" rx="150" ry="70" style="stroke-width:2.4"/><ellipse cx="630" cy="668" rx="132" ry="62"/>
  <ellipse cx="630" cy="677" rx="45" ry="22"/><ellipse cx="630" cy="650" rx="33" ry="17"/><ellipse cx="630" cy="677" rx="27" ry="13"/><ellipse cx="630" cy="650" rx="14" ry="7"/>
  <path d="M612,785 V815 L605,820 Q630,840 660,820 L655,810 V785Z"/><ellipse cx="632" cy="790" rx="21" ry="14"/><ellipse cx="632" cy="790" rx="10" ry="7"/>
  <path d="M826,733 L838,722 H858 L868,733 V745 L858,755 H838 L826,745Z"/><ellipse cx="847" cy="735" rx="10" ry="6"/>
  <path d="M725,810 L820,762 L965,825 V835 L872,880 L725,820Z"/><path d="M725,810 L870,868 L965,825 M870,868 V880"/><ellipse cx="845" cy="816" rx="17" ry="8"/>
  <path d="M820,892 V950 Q845,965 870,950 V892Z"/><ellipse cx="845" cy="893" rx="25" ry="13"/><ellipse cx="845" cy="893" rx="10" ry="5"/>
  <path d="M520,990 L570,990 L670,1092 L795,1040 V1000 Q845,960 895,1000 V1085 Q880,1095 860,1092 L655,1175 Q620,1185 585,1165 L515,1010Z"/>
  <path d="M515,1010 L585,1175 Q620,1195 655,1180 L862,1085 V1072 L655,1160 Q620,1170 590,1155 L520,990" style="fill:none"/>
  <path d="M795,1040 V1080 M862,1072 L895,1085" style="fill:none"/>
  <path d="M590,1108 L612,1096 L637,1110 L612,1122Z"/><ellipse cx="630" cy="1145" rx="11" ry="7"/>
  <ellipse cx="845" cy="1005" rx="50" ry="25"/><ellipse cx="845" cy="1007" rx="38" ry="18"/>
  <path d="M528,970 V1000 Q550,1015 573,1000 V970Z"/><ellipse cx="550" cy="968" rx="22" ry="11"/><ellipse cx="550" cy="968" rx="13" ry="6"/>
  <path d="M947,1003 L962,995 L975,1005 L960,1016Z" style="fill:#000"/>
  <ellipse cx="845" cy="1130" rx="35" ry="15"/><ellipse cx="845" cy="1128" rx="14" ry="6"/>
  <rect x="832" y="1160" width="26" height="95"/><path d="M832,1170H858M832,1180H858M832,1190H858M832,1200H858M832,1210H858"/>
  <path d="M826,1258 L838,1248 H858 L868,1258 V1270 L858,1280 H838 L826,1270Z"/><path d="M826,1258 L838,1265 H858 L868,1258"/>
  <path d="M605,1220 L618,1210 H645 L658,1220 V1232 L645,1243 H618 L605,1232Z"/><ellipse cx="632" cy="1222" rx="14" ry="7"/>
 </g>
 <g class="l ld">
  <path d="M330,55 L398,88 M450,178 H590 M140,145 L212,218 M445,385 L620,395 M648,543 L805,535 M675,640 L975,578 M870,722 L940,672 M243,732 L500,728 M910,815 L990,762 M868,915 L1015,897 M335,900 L605,820 M900,1030 L950,1005 M968,1010 L1040,1065 M328,1100 L570,1058 M870,1140 L985,1170 M460,1290 L605,1240 M868,1262 L980,1325"/>
 </g>
</g>

<!-- labels -->
<g class="n" transform="scale(1.8906)">
<text x="691" y="271">10</text><text x="321" y="261">25</text><text x="301" y="298">14</text><text x="301" y="341">21</text><text class="r" x="286" y="431">REF.</text>
<text x="361" y="475">24</text><text x="445" y="478">9</text><text x="485" y="484">23</text><text x="721" y="448">25</text><text x="665" y="478">7</text><text x="632" y="504">22</text><text x="564" y="536">4</text>
<text x="342" y="546">9</text><text x="428" y="572">23</text><text x="670" y="570">13</text><text class="g" x="349" y="584">24</text><text x="358" y="626">3</text><text class="g" x="316" y="662">5</text>
<text x="141" y="620">16</text><text x="119" y="661">18</text><text x="215" y="678">6</text><text x="95" y="683">9</text><text x="263" y="683">17</text><text class="g" x="495" y="710">17</text><text class="g" x="464" y="728">20</text>
<text x="235" y="738">19</text><text x="272" y="737">24</text><text x="95" y="747">23</text><text x="106" y="762">1</text><text x="236" y="761">8</text><text x="250" y="781">24</text><text x="204" y="808">23</text><text x="69" y="792">24</text>
<text x="448" y="788">15</text><text x="377" y="815">24</text><text x="190" y="845">2</text><text x="220" y="932">11</text><text x="514" y="946">12</text>
<text x="995" y="517">10</text><text x="870" y="563">25</text><text x="832" y="592">7</text><text x="794" y="607">22</text><text x="677" y="645">9</text><text x="752" y="639">23</text><text x="1001" y="649">25</text><text x="999" y="691">14</text><text x="991" y="723">21</text>
<text x="656" y="688">24</text><text x="684" y="752">9</text><text x="735" y="766">23</text><text x="642" y="758">24</text><text x="829" y="771">4</text><text class="g" x="745" y="795">28</text><text x="859" y="815">26</text><text class="r" x="1009" y="862">REF.</text>
<text x="769" y="930">29</text><text x="661" y="960">27</text>
<text x="832" y="1120">32</text><text x="906" y="1156">31</text><text x="791" y="1139">30</text><text x="915" y="1215">33</text><text x="954" y="1254">37</text><text x="996" y="1268">38</text><text x="983" y="1298">40</text><text x="806" y="1317">39</text><text x="995" y="1327">41</text><text x="1004" y="1361">42</text><text x="828" y="1372">35</text><text x="1076" y="1372">34</text><text x="1005" y="1412">44</text><text x="822" y="1419">43</text><text x="995" y="1443">45</text><text x="851" y="1477">36</text><text x="995" y="1485">46</text>
</g>
</svg>
</body></html>
